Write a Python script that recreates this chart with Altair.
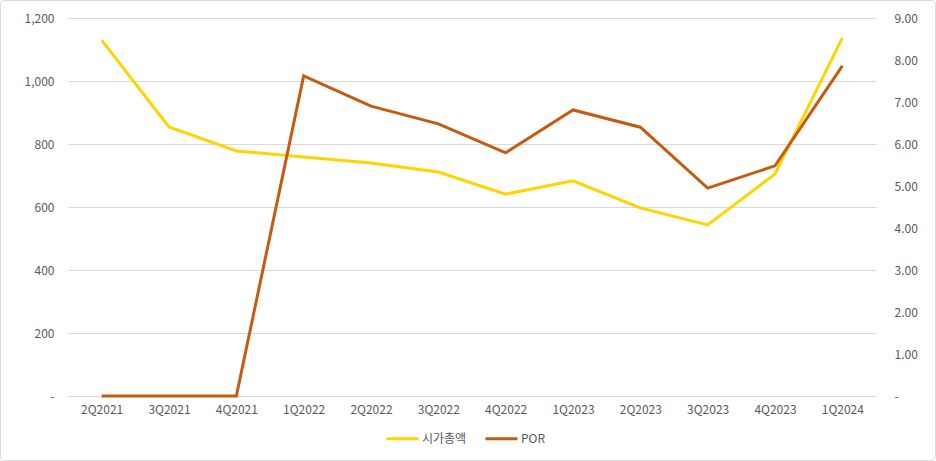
import altair as alt
import pandas as pd

quarters = ["2Q2021", "3Q2021", "4Q2021", "1Q2022", "2Q2022", "3Q2022",
            "4Q2022", "1Q2023", "2Q2023", "3Q2023", "4Q2023", "1Q2024"]
market_cap = [1130, 854, 778, 759, 740, 711, 641, 683, 597, 543, 705, 1137]
por = [0, 0, 0, 7.62, 6.90, 6.48, 5.79, 6.81, 6.40, 4.95, 5.48, 7.86]

series_names = ["시가총액", "POR"]
series_colors = ["#FFD400", "#C55A11"]

df = pd.DataFrame({"quarter": quarters, "cap": market_cap, "por": por})

FONT = "Noto Sans CJK KR"
LABEL_COLOR = "#595959"
W, H = 808, 378

x = alt.X("quarter:N", sort=quarters, title=None,
          axis=alt.Axis(labelAngle=0, ticks=False, domain=True,
                        domainColor="#d9d9d9", labelPadding=8,
                        labelFont=FONT, labelFontSize=12, labelColor=LABEL_COLOR),
          scale=alt.Scale(paddingInner=0, paddingOuter=0.5))

color = alt.Color("s:N", scale=alt.Scale(domain=series_names, range=series_colors),
                  legend=alt.Legend(orient="none", legendX=317, legendY=403,
                                    title=None, symbolType="stroke",
                                    symbolStrokeWidth=3, symbolSize=1024,
                                    labelOffset=2,
                                    labelFont=FONT, labelFontSize=12,
                                    labelColor=LABEL_COLOR, columnPadding=12,
                                    direction="horizontal"))

cap_line = alt.Chart(df).transform_calculate(s="'시가총액'").mark_line(strokeWidth=3).encode(
    x=x,
    y=alt.Y("cap:Q", title=None,
            scale=alt.Scale(domain=[0, 1200], nice=False),
            axis=alt.Axis(values=[0, 200, 400, 600, 800, 1000, 1200],
                          labelExpr="datum.value == 0 ? '-' : format(datum.value, ',')",
                          ticks=False, domain=False, grid=True, gridColor="#d9d9d9",
                          labelPadding=14, labelFont=FONT, labelFontSize=12,
                          labelColor=LABEL_COLOR)),
    color=color,
)

por_line = alt.Chart(df).transform_calculate(s="'POR'").mark_line(strokeWidth=3).encode(
    x=x,
    y=alt.Y("por:Q", title=None,
            scale=alt.Scale(domain=[0, 9], nice=False),
            axis=alt.Axis(orient="right", values=list(range(10)),
                          labelExpr="datum.value == 0 ? '-' : format(datum.value, '.2f')",
                          ticks=False, domain=False, grid=False,
                          labelPadding=18, labelFont=FONT, labelFontSize=12,
                          labelColor=LABEL_COLOR)),
    color=color,
)

border = alt.Chart(pd.DataFrame({"k": [0]})).mark_rect(
    fill=None, stroke="#d9d9d9", strokeWidth=1, cornerRadius=4
).encode(x=alt.value(-67.5), x2=alt.value(W + 59.5),
         y=alt.value(-17.5), y2=alt.value(H + 64.5))

chart = alt.layer(border, cap_line, por_line).resolve_scale(y="independent").properties(
    width=W, height=H,
    autosize=alt.AutoSizeParams(type="none"),
    padding={"left": 68, "top": 18, "right": 60, "bottom": 65},
    background="white",
).configure_view(stroke=None)

chart.save("out.html", embed_options={"renderer": "svg", "actions": False})
